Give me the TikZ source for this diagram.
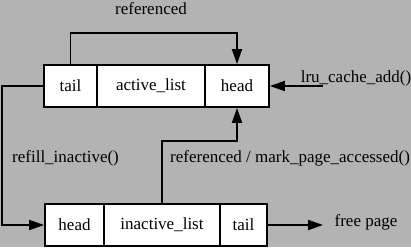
\documentclass[tikz,border=0pt]{standalone}
\usepackage{fontspec}
\setmainfont{Liberation Serif}
\usetikzlibrary{arrows.meta}
\definecolor{bg}{RGB}{179,179,179}
\begin{document}
\begin{tikzpicture}[x=1pt,y=-1pt,
  cell/.style={draw,fill=white,line width=1.8pt,minimum height=42pt,inner sep=0pt,anchor=center},
  lbl/.style={inner sep=0pt},
  conn/.style={line width=1.8pt,-{Triangle[length=15pt,width=10pt]}},
  every node/.append style={font=\fontsize{17}{20}\selectfont}]
\fill[bg] (0,0) rectangle (411,247);
\useasboundingbox (0,0) rectangle (411,247);
% active list
\node[cell,minimum width=53pt] (at) at (70.5,86) {tail};
\node[cell,minimum width=108pt] (aa) at (151,86) {active\_list};
\node[cell,minimum width=64pt] (ah) at (237,86) {head};
% inactive list
\node[cell,minimum width=59pt] (ih) at (74.5,225) {head};
\node[cell,minimum width=116pt] (ii) at (162,225) {inactive\_list};
\node[cell,minimum width=47pt] (it) at (243.5,225) {tail};
% labels
\node[lbl] (lref) at (151,9) {referenced};
\node[lbl] (llru) at (356,78) {lru\_cache\_add()};
\node[lbl,anchor=west] (lrefill) at (12,158) {refill\_inactive()};
\node[lbl,anchor=west] (lmark) at (170,158) {referenced / mark\_page\_accessed()};
\node[lbl] (lfree) at (366,222) {free page};
\coordinate (lrustart) at (323,86);
\coordinate (freeend) at (323,225);
% connectors
\draw[conn] (at.north) -- ++(0,-31) -| (ah.north);
\draw[conn] (lrustart) -- (ah.east);
\draw[conn] (at.west) -| (2,140) |- (ih.west);
\draw[conn] (ii.north) |- (237,141) -- (ah.south);
\draw[conn] (it.east) -- (freeend);
\end{tikzpicture}
\end{document}
